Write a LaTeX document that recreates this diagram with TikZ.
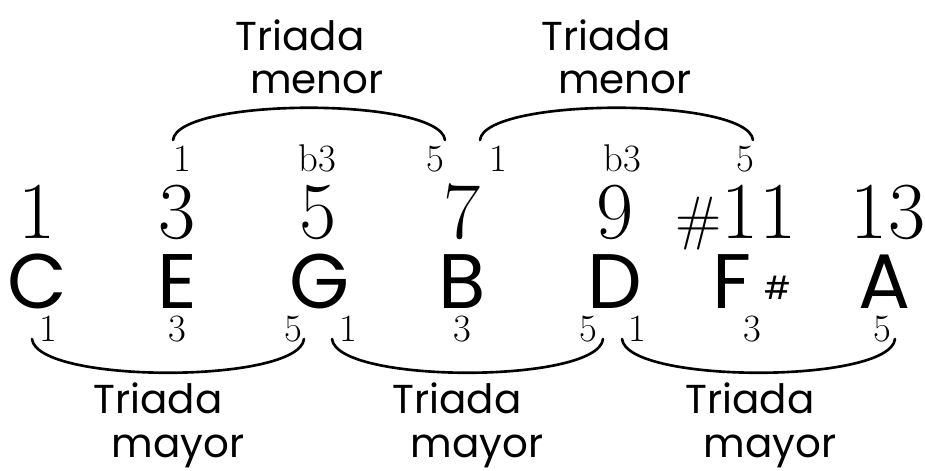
\documentclass[tikz,border=0pt]{standalone}
\usepackage{fontspec}
\newfontfamily\hand{Poppins}

\tikzset{
  note/.style={font=\hand\fontsize{44}{44}\selectfont, anchor=base, inner sep=0pt, text depth=0pt},
  big/.style={font=\fontsize{46}{46}\selectfont, anchor=base, inner sep=0pt},
  deg/.style={font=\fontsize{22}{22}\selectfont, anchor=base, inner sep=0pt},
  word/.style={font=\hand\fontsize{23}{23}\selectfont, anchor=base, inner sep=0pt},
  brace/.style={line width=1.5pt, line cap=round}
}

\begin{document}
\begin{tikzpicture}[x=0.02cm,y=-0.02cm]
\useasboundingbox (0,0) rectangle (925,470);

\node[word] (TW1) at (300,50) {Triada};
\node[word] (TM1) at (317,93) {menor};
\node[word] (TW2) at (606,50) {Triada};
\node[word] (TM2) at (625,93) {menor};

\node[deg] (u1) at (182,171) {1};
\node[deg] (u2) at (317,171) {b3};
\node[deg] (u3) at (435,171) {5};
\node[deg] (u4) at (498,171) {1};
\node[deg] (u5) at (622,171) {b3};
\node[deg] (u6) at (745,171) {5};

\node[big] (n1) at (37,238) {1};
\node[big] (n3) at (177,238) {3};
\node[big] (n5) at (318,238) {5};
\node[big] (n7) at (462,238) {7};
\node[big] (n9) at (615,238) {9};
\node[big] (n11) at (736,238) {{\fontsize{34}{34}\selectfont\#}11};
\node[big] (n13) at (888,238) {13};

\node[note] (C) at (37,308) {C};
\node[note] (E) at (177,308) {E};
\node[note] (G) at (320,308) {G};
\node[note] (B) at (462,308) {B};
\node[note] (D) at (615,308) {D};
\node[note] (Fs) at (752,308) {F\,{\fontsize{18}{18}\selectfont\raisebox{5pt}{\#}}};
\node[note] (A) at (885,308) {A};

\node[deg] (d1) at (48,341) {1};
\node[deg] (d2) at (177,341) {3};
\node[deg] (d3) at (293,341) {5};
\node[deg] (d4) at (348,341) {1};
\node[deg] (d5) at (462,341) {3};
\node[deg] (d6) at (588,341) {5};
\node[deg] (d7) at (637,341) {1};
\node[deg] (d8) at (752,341) {3};
\node[deg] (d9) at (882,341) {5};

\node[word] (BW1) at (158,413) {Triada};
\node[word] (BM1) at (178,457) {mayor};
\node[word] (BW2) at (457,413) {Triada};
\node[word] (BM2) at (477,457) {mayor};
\node[word] (BW3) at (750,413) {Triada};
\node[word] (BM3) at (770,457) {mayor};

\coordinate (ta1) at (173,140);
\coordinate (tb1) at (445,140);
\coordinate (ta2) at (480,140);
\coordinate (tb2) at (753,140);
\coordinate (ba1) at (32,339);
\coordinate (bb1) at (304,339);
\coordinate (ba2) at (332,339);
\coordinate (bb2) at (603,339);
\coordinate (ba3) at (622,339);
\coordinate (bb3) at (895,339);

\draw[brace] (ta1) .. controls (178,97) and (440,97) .. (tb1);
\draw[brace] (ta2) .. controls (485,97) and (748,97) .. (tb2);
\draw[brace] (ba1) .. controls (37,384) and (299,384) .. (bb1);
\draw[brace] (ba2) .. controls (337,384) and (598,384) .. (bb2);
\draw[brace] (ba3) .. controls (627,384) and (890,384) .. (bb3);
\end{tikzpicture}
\end{document}
